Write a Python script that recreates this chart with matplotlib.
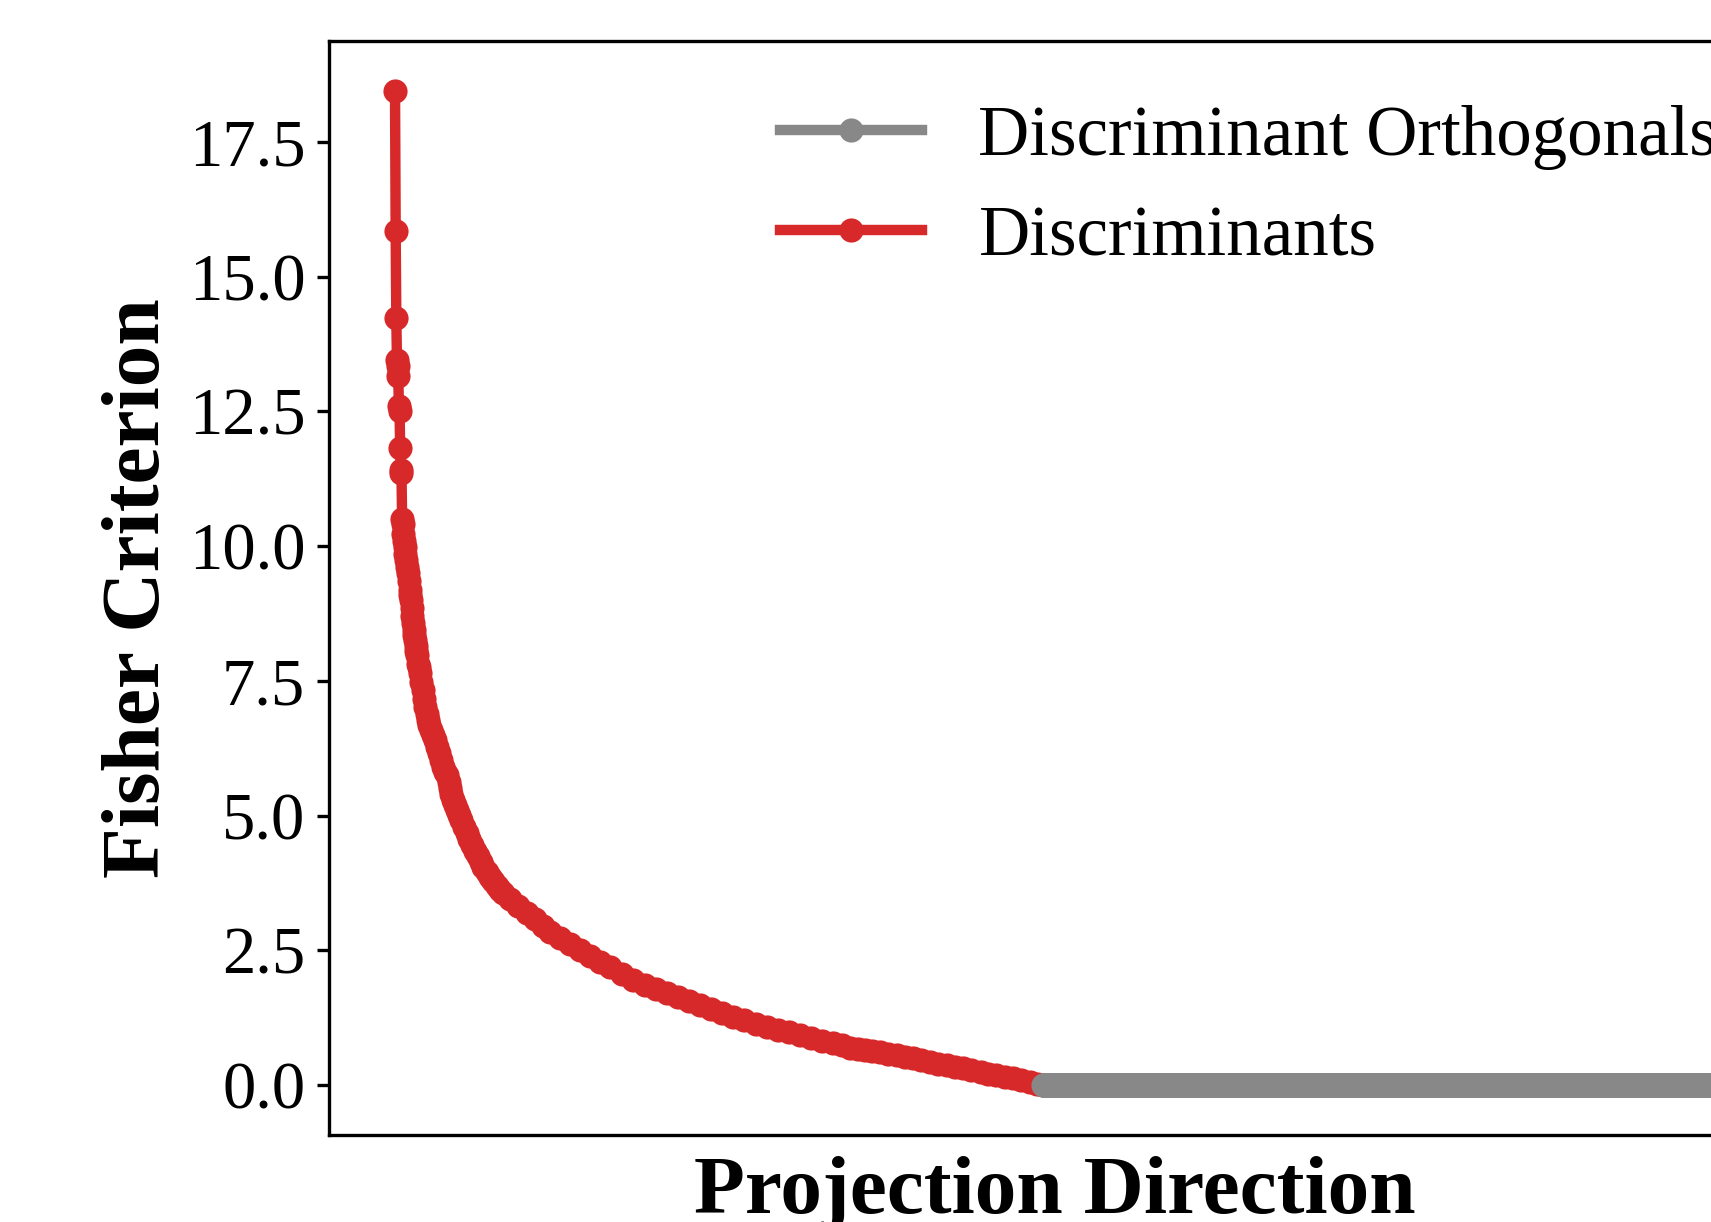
import matplotlib
matplotlib.use("Agg")
import matplotlib.pyplot as plt

# Fisher criterion of the discriminant directions
disc_index = [0, 1, 2, 3, 4, 5, 6, 7, 8, 9, 10, 11, 12, 13, 14, 15, 16, 17,
              18, 20, 21, 23, 24, 25, 26, 27, 28, 29, 30, 31, 32, 33, 34, 36,
              37, 39, 41, 43, 45, 47, 49, 51, 53, 56, 59, 62, 65, 68, 71, 74,
              77, 81, 83, 85, 87, 90, 93, 96, 99, 102, 107, 112, 115, 119, 124,
              129, 133, 137, 142, 147, 152, 158, 163, 168, 178, 191, 205,
              217, 230, 240, 256, 271, 287, 303, 318, 334, 352, 369, 388, 405,
              422, 439, 456, 473, 490, 507, 524, 541, 560, 577, 594, 611, 628,
              645, 662, 679, 693, 706, 718, 729, 740, 752, 765, 779, 791, 804,
              816, 830, 842, 856, 869, 881, 894, 908, 920, 932, 946, 959, 971,
              985, 996, 1005]
disc_values = [18.45, 15.84, 14.23, 13.45, 13.35, 13.15, 12.60, 12.50, 11.82,
               11.42, 11.36, 10.50, 10.42, 10.22, 10.10, 9.98, 9.85, 9.75,
               9.62, 9.50, 9.35, 9.18, 9.09, 9.00, 8.85, 8.70, 8.57, 8.45,
               8.35, 8.26, 8.15, 8.06, 7.98, 7.82, 7.75, 7.64, 7.48, 7.33,
               7.17, 7.01, 6.88, 6.77, 6.68, 6.59, 6.50, 6.40, 6.28, 6.16,
               6.03, 5.90, 5.82, 5.75, 5.62, 5.51, 5.40, 5.29, 5.20, 5.10,
               5.01, 4.92, 4.80, 4.68, 4.56, 4.45, 4.35, 4.25, 4.14, 4.04,
               3.95, 3.86, 3.78, 3.69, 3.62, 3.56, 3.45, 3.32, 3.19, 3.08,
               2.95, 2.84, 2.73, 2.62, 2.50, 2.39, 2.28, 2.19, 2.06, 1.95,
               1.86, 1.78, 1.71, 1.63, 1.56, 1.48, 1.41, 1.34, 1.26, 1.21,
               1.13, 1.08, 1.02, 0.98, 0.93, 0.87, 0.83, 0.78, 0.74, 0.70,
               0.68, 0.65, 0.63, 0.61, 0.58, 0.56, 0.53, 0.50, 0.46, 0.43,
               0.40, 0.37, 0.34, 0.32, 0.28, 0.24, 0.21, 0.19, 0.16, 0.13,
               0.09, 0.06, 0.03, 0.00]

# the orthogonal directions all sit at zero
ortho_index = list(range(1005, 2048))
ortho_values = [0.0] * len(ortho_index)

plt.rcParams['font.family'] = ['Liberation Serif', 'DejaVu Serif']

fig = plt.figure(figsize=(1711 / 300, 1222 / 300), dpi=300)
ax = fig.add_axes([0.1923, 0.0712, 0.8486, 0.8953])

red, = ax.plot(disc_index, disc_values, color='#d8292a', lw=2.5,
               marker='o', markersize=4.8, label='Discriminants')
gray, = ax.plot(ortho_index, ortho_values, color='#888888', lw=2.5,
                marker='o', markersize=4.8, label='Discriminant Orthogonals')

ax.set_xticks([])
ax.tick_params(axis='y', labelsize=16, length=3, pad=2.7)
ax.set_yticks([0, 2.5, 5, 7.5, 10, 12.5, 15, 17.5])
ax.set_xlabel('Projection Direction', fontsize=20, fontweight='bold',
              labelpad=5)
ax.set_ylabel('Fisher Criterion', fontsize=20, fontweight='bold',
              labelpad=2.7)

ax.legend(handles=[gray, red], loc='upper right', frameon=False,
          fontsize=17, handlelength=2.0)

fig.savefig('out.png', dpi=300)
